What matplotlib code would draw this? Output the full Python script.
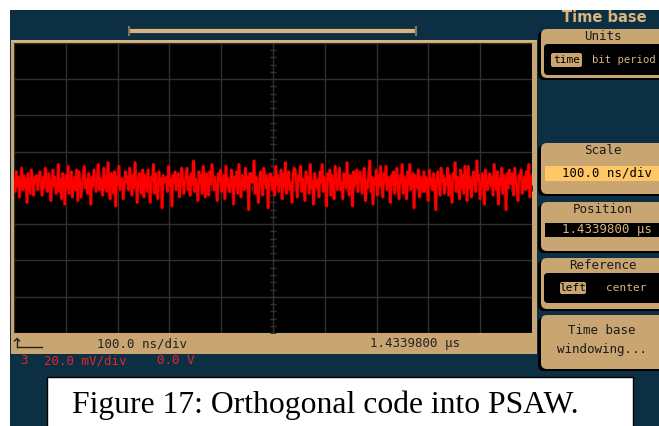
import numpy as np
import matplotlib
matplotlib.use("Agg")
import matplotlib.pyplot as plt
from matplotlib.patches import Rectangle, FancyBboxPatch

# channel 3 trace, mV (20 mV/div) left to right
trace_mv = [
    4, -2, 9, 1, 6, -5, 3, 11, -1, 7, 0, 5, -8, 8, 2, -3, 10, 4, -4, 6,
    3, 7, -1, 5, 9, 2, -4, 6, 0, 11, 4, -2, 8, 5, -7, 3, 10, 1, 6, -3,
    1, 13, -2, 5, -6, 8, 3, -9, 7, 0, 12, -3, 4, 9, -5, 2, 6, -1, 10, -7,
    9, 4, -5, 2, 7, 12, 0, 5, -3, 8, 3, -9, 6, 1, 10, 4, -2, 7, 13, -1,
    5, 3, -4, 11, 0, 7, -2, 14, 1, -6, 8, 4, -3, 9, -10, 6, 2, 12, -1, 5,
    5, -6, 2, 9, 3, 6, -1, 11, 4, -4, 7, 0, 14, 2, -8, 5, 8, 1, -3, 10,
    -5, 7, 3, -2, 10, 1, -8, 6, 4, 13, -3, 8, 0, -6, 9, 2, 5, -11, 7, 3,
    4, 6, -2, 12, 1, 5, -10, 7, 3, 9, -1, 4, 8, -5, 2, 11, 6, -3, 3, 7,
    11, -1, 6, -4, 8, 2, 15, -2, 5, 0, -7, 9, 3, 7, -3, 12, 1, -5, 8, 4,
    -4, 9, 2, 13, 5, -1, 6, 0, -7, 8, 4, 10, -2, 3, 7, -6, 12, 1, 5, -2,
    -2, 10, 5, -9, 6, 1, 9, -3, 13, 2, -5, 7, 4, -1, 11, 0, 6, -12, 8, 3,
    8, 3, 15, -3, 6, 1, -8, 4, 9, 2, -4, 11, 5, 0, 7, -11, 3, 8, 6, -1,
    6, -4, 12, 2, 7, -2, 4, 10, -6, 8, 1, 14, -3, 5, 9, -1, 3, -8, 7, 11,
    10, 2, -5, 7, 4, 12, -2, 5, 1, -7, 9, 3, 6, -3, 13, 0, 4, -9, 8, 2,
    0, 5, -5, 9, 3, 13, -2, 6, 1, -10, 8, 4, 10, -4, 7, 2, -6, 12, 5, -1,
    5, 11, -1, 3, -6, 8, 6, 0, 14, 2, -4, 7, 4, -10, 9, 1, 5, 10, -2, 6,
    9, 3, -3, 7, 11, -7, 4, 0, 8, 15, -2, 6, -9, 5, 2, 10, -4, 7, 1, 12,
    1, -5, 8, 3, 12, -1, 6, 4, -8, 7, 2, 9, -3, 5, 11, 0, -6, 7, 3, 13,
    -3, 6, 4, -6, 9, 2, 13, -1, 5, 8, -11, 7, 3, 0, 10, -5, 6, 4, -2, 9,
    -2, 6, 4, -7, 10, 2, 5, -1, 8, 3, -12, 6, 9, 1, -4, 11, 4, 7, -3, 5,
    2, 11, -4, 7, 1, -8, 8, 5, 14, -2, 6, 3, -6, 10, 0, 7, -3, 12, 4, -7,
    12, 0, 6, -5, 3, 9, 2, -2, 15, 4, 7, -6, 1, 8, 5, -9, 10, 3, -1, 6,
    8, 1, 6, -4, 13, 3, -1, 9, -9, 5, 2, 11, -3, 7, 4, -12, 8, 0, 10, 3,
    2, 8, -4, 11, 4, 1, -7, 7, 5, 10, -3, 3, 6, -1, 9, 0, 13, -5, 4, 7,
]
ns_per_div = 100
mv_per_div = 20
scale_text = "100.0 ns/div"
position_text = "1.4339800 μs"
channel_text = ["3", "20.0 mV/div", "0.0 V"]
caption = "Figure 17: Orthogonal code into PSAW."

NAVY = "#0c2f44"
BEIGE = "#c9a571"
LIGHT = "#d8b57d"
MONO = "DejaVu Sans Mono"

fig = plt.figure(figsize=(6.59, 4.26), dpi=100)
fig.patch.set_facecolor("white")

# background axes in pixel coordinates
bg = fig.add_axes([0, 0, 1, 1])
bg.set_xlim(0, 659)
bg.set_ylim(426, 0)
bg.axis("off")

bg.add_patch(Rectangle((10, 10), 660, 420, fc=NAVY, ec="none"))
# screen frame + status bar
bg.add_patch(Rectangle((11, 40), 526, 314, fc=BEIGE, ec="none"))
bg.add_patch(Rectangle((11, 40), 526, 2, fc=LIGHT, ec="none"))

# top position bar
bg.plot([129, 416], [31, 31], color=LIGHT, lw=3, solid_capstyle="butt")
bg.plot([129, 129], [27, 35], color="#8a7250", lw=1.5)
bg.plot([416, 416], [27, 35], color="#8a7250", lw=1.5)

bg.text(604, 17, "Time base", color=LIGHT, fontsize=10.5, fontweight="bold",
        family="DejaVu Sans", ha="center", va="center")


def panel(y0, y1, title):
    bg.add_patch(FancyBboxPatch((538, y0 + 2), 140, y1 - y0, boxstyle="round,pad=0,rounding_size=6",
                                fc="black", ec="none"))
    bg.add_patch(FancyBboxPatch((541, y0), 140, y1 - y0, boxstyle="round,pad=0,rounding_size=6",
                                fc=BEIGE, ec="none"))
    if title:
        bg.text(603, y0 + 7.5, title, color="#1a1a1a", fontsize=9, family=MONO,
                ha="center", va="center")


def hilite(x0, x1, y0, y1, label):
    bg.add_patch(FancyBboxPatch((x0, y0), x1 - x0, y1 - y0, boxstyle="round,pad=0,rounding_size=2",
                                fc=BEIGE, ec="none"))
    bg.text((x0 + x1) / 2, (y0 + y1) / 2, label, color="black", fontsize=8, family=MONO,
            ha="center", va="center")


panel(29, 78, "Units")
bg.add_patch(FancyBboxPatch((544, 44), 130, 31, boxstyle="round,pad=0,rounding_size=4", fc="black", ec="none"))
hilite(551, 582, 53, 67, "time")
bg.text(592, 60, "bit period", color=LIGHT, fontsize=7.6, family=MONO, va="center")

panel(143, 194, "Scale")
bg.add_patch(Rectangle((545, 166), 130, 15, fc="#ffc765", ec="none"))
bg.text(562, 173.5, scale_text, color="black", fontsize=8.9, family=MONO, va="center")

panel(202, 251, "Position")
bg.add_patch(Rectangle((545, 223), 130, 14, fc="black", ec="none"))
bg.text(562, 230, position_text, color=LIGHT, fontsize=8.9, family=MONO, va="center")

panel(258, 309, "Reference")
bg.add_patch(FancyBboxPatch((544, 273), 130, 30, boxstyle="round,pad=0,rounding_size=4", fc="black", ec="none"))
hilite(560, 586, 282, 294, "left")
bg.text(626, 288, "center", color=LIGHT, fontsize=8, family=MONO, ha="center", va="center")

panel(315, 369, None)
bg.text(602, 331, "Time base", color="#1a1a1a", fontsize=9, family=MONO, ha="center", va="center")
bg.text(602, 349, "windowing...", color="#1a1a1a", fontsize=9, family=MONO, ha="center", va="center")

# status bar
bg.plot([17, 17], [347, 338.5], color="#222222", lw=1)
bg.plot([14.5, 17, 19.5], [341, 338.5, 341], color="#222222", lw=1)
bg.plot([17, 42], [347, 347], color="#222222", lw=1)
bg.text(142, 344, scale_text, color="#222222", fontsize=9, family=MONO, ha="center", va="center")
bg.text(415, 344, position_text, color="#222222", fontsize=9, family=MONO, ha="center", va="center")

for x, t in zip([20, 44, 157], channel_text):
    bg.text(x, 361, t, color="#e3262b", fontsize=9, family=MONO, va="center")

# caption box
bg.add_patch(Rectangle((47, 377), 586, 60, fc="white", ec="black", lw=1))
bg.text(72, 405, caption, color="black", fontsize=22.8, family="Liberation Serif", va="center")

# scope screen
ax = fig.add_axes([14 / 659, 1 - 333 / 426, 518 / 659, 290 / 426])
ax.set_facecolor("black")
ax.set_xlim(0, 10 * ns_per_div)
ax.set_ylim(-4 * mv_per_div, 4 * mv_per_div)
for s in ax.spines.values():
    s.set_visible(False)
ax.set_xticks(np.arange(0, 10 * ns_per_div + 1, ns_per_div))
ax.set_yticks(np.arange(-4 * mv_per_div, 4 * mv_per_div + 1, mv_per_div))
ax.grid(True, color="#303030", lw=1)
ax.tick_params(left=False, bottom=False, labelleft=False, labelbottom=False)
ax.set_axisbelow(True)

# minor ticks on the centre cross
xm = np.arange(0, 10 * ns_per_div + 1, ns_per_div / 5)
ym = np.arange(-4 * mv_per_div, 4 * mv_per_div + 1, mv_per_div / 5)
ax.plot(xm, np.zeros_like(xm), "|", color="#333333", ms=5, mew=1)
ax.plot(np.full_like(ym, 5 * ns_per_div), ym, "_", color="#333333", ms=5, mew=1)

t = np.linspace(0, 10 * ns_per_div, len(trace_mv))
ax.plot(t, trace_mv, color="#8a0000", lw=2.4)
ax.plot(t, trace_mv, color="#ff0000", lw=1.5)

fig.savefig("out.png", dpi=100)
